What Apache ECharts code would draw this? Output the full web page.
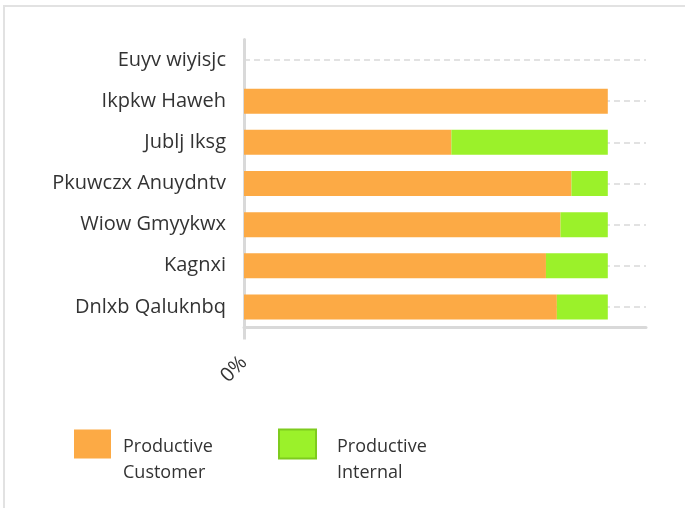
<!DOCTYPE html>
<html>
<head>
<meta charset="utf-8">
<script src="https://cdn.jsdelivr.net/npm/echarts@6/dist/echarts.min.js"></script>
<style>
  html, body { margin: 0; padding: 0; background: #fff; }
  #chart { position: absolute; left: 0; top: 0; width: 685px; height: 508px; }
  #frame { position: absolute; left: 3px; top: 5px; width: 700px; height: 520px;
           border-top: 2px solid #e2e2e2; border-left: 2px solid #e2e2e2; pointer-events: none; }
</style>
</head>
<body>
<div id="chart"></div>
<div id="frame"></div>
<script>
// Categories listed bottom-to-top (ECharts category y axis grows upward)
const categories = ['Dnlxb Qaluknbq', 'Kagnxi', 'Wiow Gmyykwx', 'Pkuwczx Anuydntv', 'Jublj Iksg', 'Ikpkw Haweh', 'Euyv wiyisjc'];
// Share of time, percent
const productiveCustomer = [86, 83, 87, 90, 57, 100, null];
const productiveInternal = [14, 17, 13, 10, 43, 0, null];
const seriesNames = ['Productive\nCustomer', 'Productive\nInternal'];
const xTickValues = [0];

const FONT = '"Open Sans", "Noto Sans", sans-serif';
const ORANGE = '#FCAA45';
const GREEN = '#9BF12A';
const chart = echarts.init(document.getElementById('chart'), null, { renderer: 'canvas' });

// One legend per series so each label can sit at its own offset from the swatch;
// an empty spacer line pushes the two-line label below the swatch centre.
function legendFor(name, left, textGap, itemStyle) {
  return {
    data: [{ name: name, itemStyle: itemStyle }],
    left: left, top: 397,
    itemWidth: 37, itemHeight: 29,
    icon: 'rect',
    selectedMode: false,
    formatter: n => '{s|}\n' + n,
    textStyle: {
      fontFamily: FONT, fontSize: 18, color: '#333', lineHeight: 26, padding: [0, 0, 0, textGap],
      rich: { s: { lineHeight: 32, fontSize: 2 } }
    }
  };
}

chart.setOption({
  animation: false,
  textStyle: { fontFamily: FONT },
  grid: { left: 244, right: 39, top: 39.5, height: 288, containLabel: false },
  legend: [
    legendFor(seriesNames[0], 69, 7, {}),
    legendFor(seriesNames[1], 273, 16, { borderColor: '#7ECB1E', borderWidth: 2 })
  ],
  xAxis: {
    type: 'value',
    min: 0, max: 110.5,
    splitLine: { show: false },
    axisLine: { show: true, lineStyle: { color: '#d9d9d9', width: 3 } },
    axisTick: { show: true, customValues: xTickValues, length: 12, lineStyle: { color: '#d9d9d9', width: 3 } },
    axisLabel: {
      customValues: xTickValues, rotate: 45, margin: 32,
      formatter: '{value}%', fontFamily: FONT, fontSize: 20, color: '#333'
    }
  },
  yAxis: {
    type: 'category',
    data: categories,
    axisLine: { show: true, lineStyle: { color: '#d9d9d9', width: 3 } },
    axisTick: { show: false },
    splitLine: { show: false },
    axisLabel: { margin: 18, fontFamily: FONT, fontSize: 20, color: '#333' }
  },
  series: [
    {
      // dashed guide line through each category row, drawn beneath the bars
      type: 'line',
      data: [],
      z: 1,
      silent: true,
      markLine: {
        z: 1,
        silent: true,
        symbol: 'none',
        label: { show: false },
        lineStyle: { type: [6, 4], color: '#d9d9d9', width: 1.5 },
        data: categories.map(c => ({ yAxis: c }))
      }
    },
    {
      name: seriesNames[0],
      type: 'bar',
      stack: 'total',
      z: 3,
      barWidth: 25,
      data: productiveCustomer,
      itemStyle: { color: ORANGE }
    },
    {
      name: seriesNames[1],
      type: 'bar',
      stack: 'total',
      z: 3,
      barWidth: 25,
      data: productiveInternal,
      itemStyle: { color: GREEN }
    }
  ]
});
</script>
</body>
</html>
